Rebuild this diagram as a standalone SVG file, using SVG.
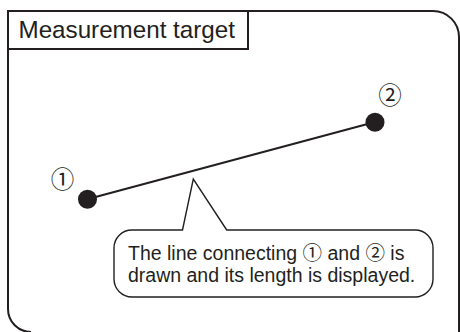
<svg xmlns="http://www.w3.org/2000/svg" width="460" height="332" viewBox="0 0 460 332">
<style>
.frame{fill:none;stroke:#231f20;stroke-width:2}
.txt{font-family:"Liberation Sans","Noto Sans CJK JP",sans-serif;fill:#231f20}
.cj{font-family:"Noto Sans CJK JP","DejaVu Sans",sans-serif}
.callout{fill:#fff;stroke:#231f20;stroke-width:1.4;stroke-linejoin:miter}
.pt{fill:#231f20}
.num{font-family:"Noto Sans CJK JP","DejaVu Sans",sans-serif;fill:#231f20;font-size:23.5px;text-anchor:middle}
</style>
<rect width="460" height="332" fill="#fff"/>
<g id="frame">
<path class="frame" d="M8 11 L433 11 A26 26 0 0 1 459 37 L459 332 M8 11 L8 309 A23 23 0 0 0 31 332"/>
</g>
<g id="title">
<rect class="frame" x="8" y="11" width="240" height="38"/>
<text class="txt" x="18.5" y="37.5" font-size="24.2">Measurement target</text>
</g>
<g id="connectors">
<line x1="88" y1="199" x2="375" y2="122" stroke="#231f20" stroke-width="2"/>
</g>
<g id="point1">
<circle class="pt" cx="87.5" cy="199.3" r="9.5"/>
<text class="num" x="62.5" y="188">①</text>
</g>
<g id="point2">
<circle class="pt" cx="375" cy="122.3" r="9.5"/>
<text class="num" x="390" y="104">②</text>
</g>
<g id="note">
<path class="callout" d="M132 230 L182.5 230 L193.3 179 L226.7 230 L415 230 A18 18 0 0 1 433 248 L433 279 A18 18 0 0 1 415 297 L132 297 A18 18 0 0 1 114 279 L114 248 A18 18 0 0 1 132 230 Z"/>
<text class="txt" font-size="19.5"><tspan x="128" y="260">The line connecting <tspan class="cj">①</tspan> and <tspan class="cj">②</tspan> is</tspan><tspan x="128" y="282">drawn and its length is displayed.</tspan></text>
</g>
</svg>
